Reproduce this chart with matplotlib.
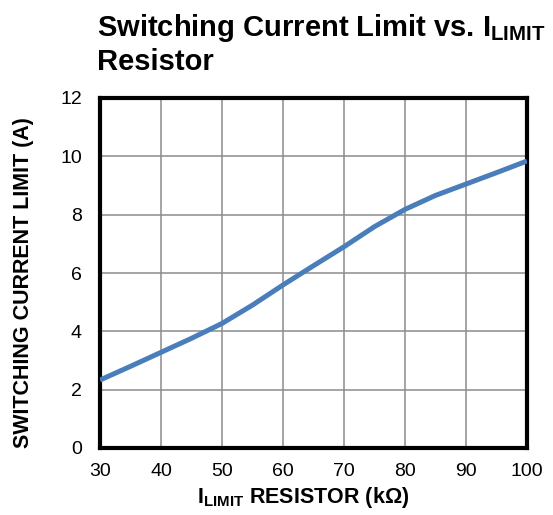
import matplotlib
matplotlib.use('Agg')
import matplotlib.pyplot as plt

plt.rcParams['font.family'] = ['Liberation Sans', 'DejaVu Sans']
plt.rcParams['mathtext.fontset'] = 'custom'
plt.rcParams['mathtext.rm'] = 'Liberation Sans'
plt.rcParams['mathtext.bf'] = 'Liberation Sans:bold'

# resistor (kOhm) vs switching current limit (A)
resistor = [30, 35, 40, 45, 50, 55, 60, 65, 70, 75, 80, 85, 90, 95, 100]
current = [2.33, 2.80, 3.28, 3.76, 4.27, 4.90, 5.59, 6.25, 6.90, 7.59, 8.18, 8.66, 9.05, 9.44, 9.84]

xticks = [30, 40, 50, 60, 70, 80, 90, 100]
yticks = [0, 2, 4, 6, 8, 10, 12]

fig = plt.figure(figsize=(5.53, 5.15), dpi=100)
ax = fig.add_axes([100/553, 1-448/515, 427/553, 350/515])

ax.plot(resistor, current, color='#4A7EBB', lw=3.6, solid_capstyle='butt', zorder=3)

ax.set_xlim(30, 100)
ax.set_ylim(0, 12)
ax.set_xticks(xticks)
ax.set_yticks(yticks)
ax.grid(True, color='#8c8c8c', lw=1.1)
ax.set_axisbelow(True)
for s in ax.spines.values():
    s.set_linewidth(3)
    s.set_color('black')
ax.tick_params(length=0, labelsize=14)
ax.tick_params(axis='y', pad=13)
ax.tick_params(axis='x', pad=11)

fig.text(97/553, 1-36/515, r'Switching Current Limit vs. I$_{\mathbf{LIMIT}}$',
         fontsize=21, fontweight='bold', va='baseline', ha='left')
fig.text(97/553, 1-70/515, 'Resistor', fontsize=21, fontweight='bold', va='baseline', ha='left')

fig.text(24/553, 1-283/515, 'SWITCHING CURRENT LIMIT (A)', fontsize=15.5, fontweight='bold',
         rotation=90, ha='center', va='center')
fig.text(303/553, 1-503/515, r'I$_{\mathbf{LIMIT}}$ RESISTOR (k$\mathbf{\Omega}$)', fontsize=15.5,
         fontweight='bold', ha='center', va='baseline')

plt.savefig('out.png', dpi=100)
